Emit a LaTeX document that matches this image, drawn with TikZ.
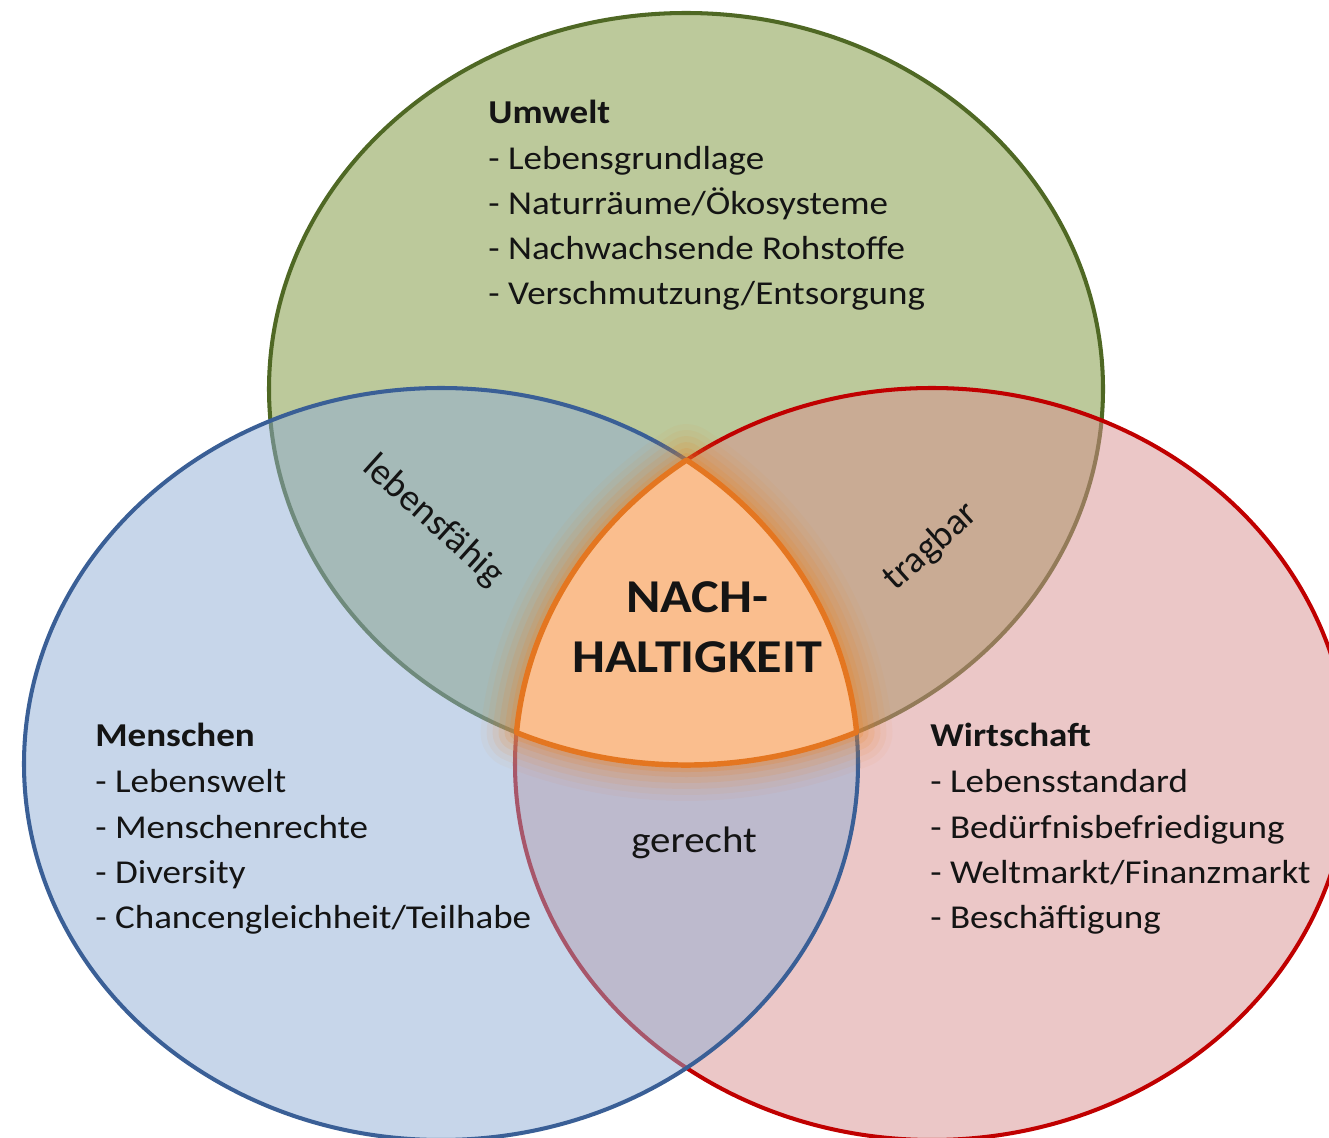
\documentclass[tikz,border=0pt]{standalone}
\usepackage{fontspec}
\setmainfont{Carlito}
\definecolor{gruenfill}{RGB}{188,201,155}
\definecolor{gruenline}{RGB}{79,104,36}
\definecolor{rotfill}{RGB}{215,143,143}
\definecolor{rotline}{RGB}{192,0,0}
\definecolor{blaufill}{RGB}{143,173,213}
\definecolor{blauline}{RGB}{58,95,150}
\definecolor{kernfill}{RGB}{250,190,142}
\definecolor{kernline}{RGB}{228,118,32}
\definecolor{glow}{RGB}{232,132,40}
\definecolor{ink}{RGB}{20,20,20}
\begin{document}
\begin{tikzpicture}[x=0.02cm,y=-0.02cm,
  ring/.style={line width=2.3pt},
  txt/.style={inner sep=0pt, xscale=1.109, text=ink,
    font=\fontsize{19}{25.8}\selectfont},
  head/.style={txt, font=\fontsize{19}{25.8}\selectfont\bfseries},
  zone/.style={inner sep=0pt, xscale=1.109, text=ink,
    font=\fontsize{21}{24}\selectfont},
  tilted/.style={inner sep=0pt, text=ink,
    font=\fontsize{21.5}{24}\selectfont},
  core/.style={inner sep=0pt, xscale=1.109, text=ink,
    font=\fontsize{26.8}{34}\selectfont\bfseries}]
\useasboundingbox (0,0) rectangle (1329,1138);
\clip (0,0) rectangle (1329,1138);

% three overlapping rings
\path[fill=gruenfill, draw=gruenline, ring]
  (686,389) ellipse [x radius=417, y radius=376];
\path[fill=rotfill, fill opacity=0.5, draw=rotline, ring]
  (932,764) ellipse [x radius=417, y radius=376];
\path[fill=blaufill, fill opacity=0.5, draw=blauline, ring]
  (441,764) ellipse [x radius=417, y radius=376];

% soft glow around the common core
\foreach \w/\o in {72/0.05, 60/0.07, 48/0.09, 36/0.12, 24/0.15, 14/0.2} {
  \draw[glow, line width=\w*0.5669pt, draw opacity=\o, line join=round]
    (686.5,460.1)
    arc [start angle=233.93, end angle=184.8, x radius=417, y radius=376]
    arc [start angle=114.0, end angle=65.86, x radius=417, y radius=376]
    arc [start angle=-4.87, end angle=-53.93, x radius=417, y radius=376]
    -- cycle;
}
% the common core
\path[fill=kernfill, draw=kernline, line width=3.1pt, line join=round]
  (686.5,460.1)
  arc [start angle=233.93, end angle=184.8, x radius=417, y radius=376]
  arc [start angle=114.0, end angle=65.86, x radius=417, y radius=376]
  arc [start angle=-4.87, end angle=-53.93, x radius=417, y radius=376]
  -- cycle;

\node[core, anchor=base] (nach) at (697,612) {NACH-};
\node[core, anchor=base] (haltig) at (697,672) {HALTIGKEIT};

% pairwise overlaps
\node[tilted, rotate=-42] (lebensf) at (433,521) {lebensfähig};
\node[tilted, rotate=42] (tragbar) at (931,547) {tragbar};
\node[zone] (gerecht) at (694,843) {gerecht};

% Umwelt
\node[head, anchor=base west] (u0) at (488,124) {Umwelt};
\node[txt, anchor=base west] (u1) at (488,170) {- Lebensgrundlage};
\node[txt, anchor=base west] (u2) at (488,215) {- Naturräume/Ökosysteme};
\node[txt, anchor=base west] (u3) at (488,260) {- Nachwachsende Rohstoffe};
\node[txt, anchor=base west] (u4) at (488,305) {- Verschmutzung/Entsorgung};

% Menschen
\node[head, anchor=base west] (m0) at (95,746) {Menschen};
\node[txt, anchor=base west] (m1) at (95,792) {- Lebenswelt};
\node[txt, anchor=base west] (m2) at (95,838) {- Menschenrechte};
\node[txt, anchor=base west] (m3) at (95,883) {- Diversity};
\node[txt, anchor=base west] (m4) at (95,928) {- Chancengleichheit/Teilhabe};

% Wirtschaft
\node[head, anchor=base west] (w0) at (930,746) {Wirtschaft};
\node[txt, anchor=base west] (w1) at (930,792) {- Lebensstandard};
\node[txt, anchor=base west] (w2) at (930,838) {- Bedürfnisbefriedigung};
\node[txt, anchor=base west] (w3) at (930,883) {- Weltmarkt/Finanzmarkt};
\node[txt, anchor=base west] (w4) at (930,928) {- Beschäftigung};
\end{tikzpicture}
\end{document}
